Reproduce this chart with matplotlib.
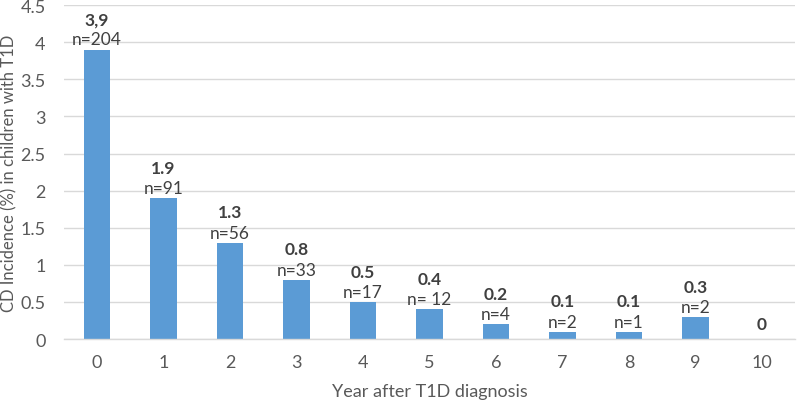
import matplotlib
matplotlib.use('Agg')
import matplotlib.pyplot as plt
import numpy as np

plt.rcParams['font.family'] = ['Lato', 'DejaVu Sans']

years = [0, 1, 2, 3, 4, 5, 6, 7, 8, 9, 10]
incidence = [3.9, 1.9, 1.3, 0.8, 0.5, 0.4, 0.2, 0.1, 0.1, 0.3, 0.0]
value_labels = ['3,9', '1.9', '1.3', '0.8', '0.5', '0.4', '0.2', '0.1', '0.1', '0.3', '0']
n_labels = ['n=204', 'n=91', 'n=56', 'n=33', 'n=17', 'n= 12', 'n=4', 'n=2', 'n=1', 'n=2', '']

BAR_COLOR = '#5B9BD5'
TEXT_COLOR = '#595959'
LABEL_COLOR = '#404040'
GRID_COLOR = '#D9D9D9'

fig = plt.figure(figsize=(7.97, 4.02), dpi=100)
ax = fig.add_axes([0.080, 0.154, 0.9175, 0.831])

ax.bar(years, incidence, width=0.4, color=BAR_COLOR, zorder=2)

for x, y, vl, nl in zip(years, incidence, value_labels, n_labels):
    if nl:
        ax.annotate(nl, (x, y), xytext=(0, 1.5), textcoords='offset points',
                    ha='center', va='bottom', fontsize=12.5, color=LABEL_COLOR)
        ax.annotate(vl, (x, y), xytext=(0, 16), textcoords='offset points',
                    ha='center', va='bottom', fontsize=12.5, fontweight='bold',
                    color=LABEL_COLOR)
    else:
        ax.annotate(vl, (x, y), xytext=(0, 5), textcoords='offset points',
                    ha='center', va='bottom', fontsize=12.5, fontweight='bold',
                    color=LABEL_COLOR)

ax.set_xlim(-0.5, 10.5)
ax.set_ylim(0, 4.5)
ax.set_yticks(np.arange(0, 4.51, 0.5))
ax.set_yticklabels(['0', '0.5', '1', '1.5', '2', '2.5', '3', '3.5', '4', '4.5'])
ax.set_xticks(years)

ax.yaxis.grid(True, color=GRID_COLOR, linewidth=1, zorder=0)
ax.set_axisbelow(True)
for side in ['top', 'right', 'left']:
    ax.spines[side].set_visible(False)
ax.spines['bottom'].set_color(GRID_COLOR)
ax.spines['bottom'].set_linewidth(1)

ax.tick_params(axis='both', length=0, labelsize=13, colors=TEXT_COLOR)
ax.tick_params(axis='x', pad=11)
ax.tick_params(axis='y', pad=13)

ax.set_xlabel('Year after T1D diagnosis', fontsize=13, color=TEXT_COLOR, va='center')
ax.xaxis.set_label_coords(0.5, -0.156)
ax.set_ylabel('CD Incidence (%) in children with T1D', fontsize=12, color=TEXT_COLOR, va='center')
ax.yaxis.set_label_coords(-0.074, 0.5)

fig.savefig('out.png', dpi=100)
